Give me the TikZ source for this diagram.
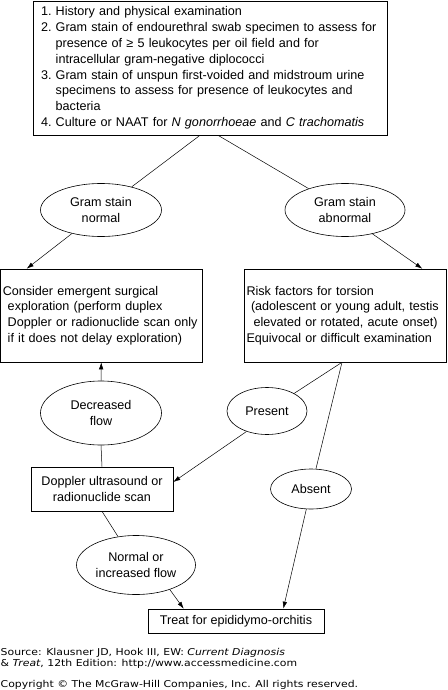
\documentclass[tikz,border=0pt]{standalone}
\usepackage{fontspec}
\setmainfont{Liberation Sans}
\newfontfamily\srcfont[FakeStretch=1.15]{DejaVu Sans}
\usetikzlibrary{shapes.geometric,arrows.meta}
\begin{document}
\begin{tikzpicture}[x=1pt,y=-1pt,
  every node/.style={font=\fontsize{12.6}{15.8}\selectfont, inner sep=0pt},
  box/.style={draw, line width=0.6pt, rectangle},
  oval/.style={draw, line width=0.6pt, ellipse, align=center},
  conn/.style={line width=0.5pt},
  arr/.style={line width=0.5pt, -{Latex[length=7pt,width=4.5pt]}},
  srcline/.style={anchor=west, font=\srcfont\fontsize{9.45}{11}\selectfont}]
\useasboundingbox (0,0) rectangle (447,690);
\fill[white] (0,0) rectangle (447,690);

\node[box, minimum width=354pt, minimum height=134pt, text width=338pt, align=left] (top) at (210,68)
 {\begin{tabular}{@{}l@{\ }l@{}}
 1. & History and physical examination\\
 2. & Gram stain of endourethral swab specimen to assess for\\
    & presence of ≥ 5 leukocytes per oil field and for\\
    & intracellular gram-negative diplococci\\
 3. & Gram stain of unspun first-voided and midstroum urine\\
    & specimens to assess for presence of leukocytes and\\
    & bacteria\\
 4. & Culture or NAAT for \textit{N gonorrhoeae} and \textit{C trachomatis}
 \end{tabular}};

\node[oval, minimum width=121pt, minimum height=53pt] (gsn) at (101,210) {Gram stain\\normal};
\node[oval, minimum width=120pt, minimum height=53pt] (gsa) at (345,210) {Gram stain\\abnormal};

\node[box, minimum width=201.5pt, minimum height=93pt, text width=197pt, align=left] (lbox) at (101.25,315.5)
 {Consider emergent surgical\\
  \hspace*{5pt}exploration (perform duplex\\
  \hspace*{5pt}Doppler or radionuclide scan only\\
  \hspace*{5pt}if it does not delay exploration)};

\node[box, minimum width=202pt, minimum height=93pt, text width=197pt, align=left] (rbox) at (345,315.5)
 {Risk factors for torsion\\
  \hspace*{4.5pt}(adolescent or young adult, testis\\
  \hspace*{7pt}elevated or rotated, acute onset)\\
  Equivocal or difficult examination};

\node[oval, minimum width=121pt, minimum height=64pt] (dec) at (101,413) {Decreased\\flow};
\node[oval, minimum width=80pt, minimum height=47pt] (pres) at (267,411) {Present};
\node[oval, minimum width=81pt, minimum height=40pt] (abs) at (311,489) {Absent};
\node[box, minimum width=142pt, minimum height=44pt, align=center] (dop) at (102,489) {Doppler ultrasound or\\radionuclide scan};
\node[oval, minimum width=119pt, minimum height=59pt] (nif) at (136,565) {Normal or\\increased flow};
\node[box, minimum width=176pt, minimum height=24pt] (treat) at (236,621) {Treat for epididymo-orchitis};

\coordinate (rb) at ([xshift=-3pt]rbox.south);

\draw[conn] ([xshift=-10pt]top.south) -- (gsn);
\draw[conn] ([xshift=8pt]top.south) -- (gsa);
\draw[arr] (gsn.-141) -- ([xshift=26.5pt]lbox.north west);
\draw[arr] (gsa.-41) -- ([xshift=-24pt]rbox.north east);
\draw[arr] (dec.north) -- (lbox.south);
\draw[conn] (dec.south) -- (dop.north);
\draw[conn] (rb) -- (pres);
\draw[conn] (rb) -- (abs);
\draw[arr] (pres.-135) -- ([yshift=7pt]dop.east);
\draw[conn] (dop.south) -- (nif);
\draw[arr] (nif.-36) -- ([xshift=36pt]treat.north west);
\draw[arr] (abs) -- ([xshift=-41pt]treat.north east);

\node[srcline] (src1) at (0.5,653) {Source: Klausner JD, Hook III, EW: \textit{Current Diagnosis}};
\node[srcline] (src2) at (0.5,664) {\& \textit{Treat}, 12th Edition: http://www.accessmedicine.com};
\node[srcline] (src3) at (0.5,685) {Copyright © The McGraw-Hill Companies, Inc. All rights reserved.};
\end{tikzpicture}
\end{document}
